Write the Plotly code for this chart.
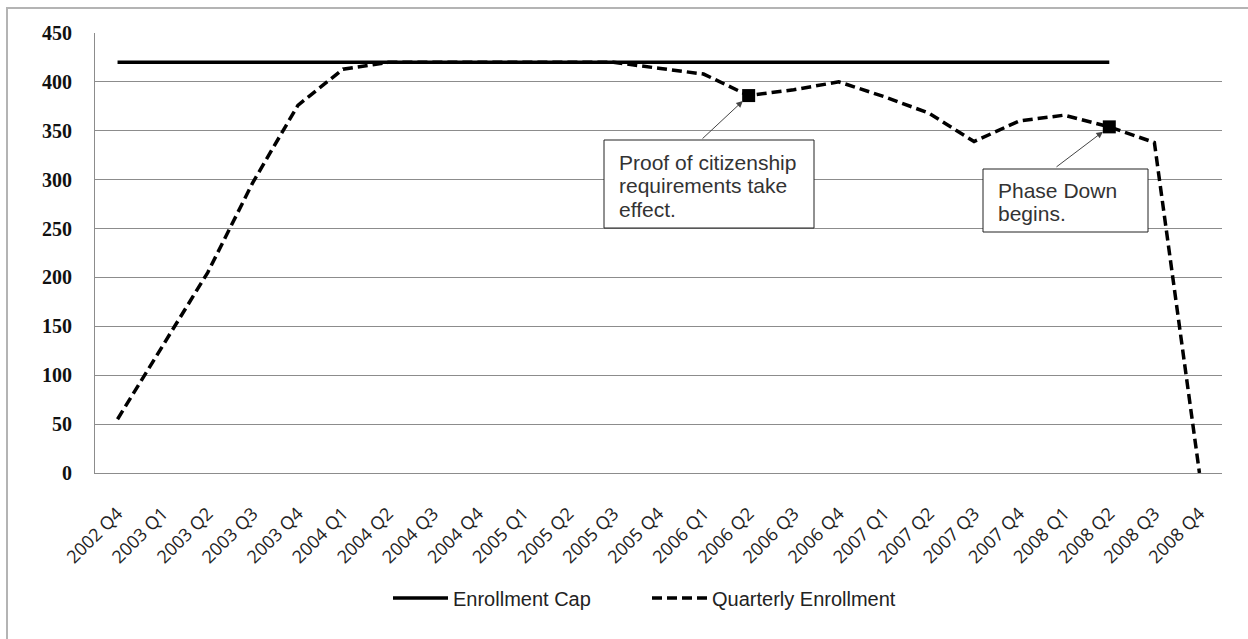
import plotly.graph_objects as go

# ---- data ----
quarters = [
    "2002 Q4",
    "2003 Q1", "2003 Q2", "2003 Q3", "2003 Q4",
    "2004 Q1", "2004 Q2", "2004 Q3", "2004 Q4",
    "2005 Q1", "2005 Q2", "2005 Q3", "2005 Q4",
    "2006 Q1", "2006 Q2", "2006 Q3", "2006 Q4",
    "2007 Q1", "2007 Q2", "2007 Q3", "2007 Q4",
    "2008 Q1", "2008 Q2", "2008 Q3", "2008 Q4",
]
enrollment_cap = [420] * 23 + [None, None]
quarterly_enrollment = [
    55,
    130, 205, 297, 376,
    413, 420, 420, 420,
    420, 420, 420, 414,
    408, 386, 392, 400,
    385, 368, 339, 360,
    366, 354, 338, 0,
]
event_quarters = ["2006 Q2", "2008 Q2"]
event_lines = [
    ["Proof of citizenship", "requirements take", "effect."],
    ["Phase Down", "begins."],
]
y_ticks = [0, 50, 100, 150, 200, 250, 300, 350, 400, 450]

# ---- layout geometry (pixels) ----
W, H = 1248, 639
L, R, T, B = 95, 1222, 33, 473
PW, PH = R - L, B - T


def px(xp):
    return (xp - L) / PW


def py(yp):
    return (B - yp) / PH


fig = go.Figure()

fig.add_trace(go.Scatter(
    x=quarters, y=enrollment_cap, mode="lines", name="Enrollment Cap",
    line=dict(color="black", width=3.5), connectgaps=False,
))
fig.add_trace(go.Scatter(
    x=quarters, y=quarterly_enrollment, mode="lines", name="Quarterly Enrollment",
    line=dict(color="black", width=3.5, dash="10px,5px"),
))
event_values = [quarterly_enrollment[quarters.index(q)] for q in event_quarters]
fig.add_trace(go.Scatter(
    x=event_quarters, y=event_values, mode="markers", showlegend=False,
    marker=dict(symbol="square", size=13, color="black"),
))

# text boxes (pixel geometry) and arrows
boxes = [
    dict(left=604, top=140, right=814, bottom=228, line_y=[162, 185, 209], tail=(701, 140)),
    dict(left=983, top=169, right=1148, bottom=232, line_y=[190, 213], tail=(1055, 168)),
]
for q, v, lines, bx in zip(event_quarters, event_values, event_lines, boxes):
    fig.add_shape(
        type="rect", xref="paper", yref="paper",
        x0=px(bx["left"]), x1=px(bx["right"]), y0=py(bx["top"]), y1=py(bx["bottom"]),
        line=dict(color="#222", width=1), fillcolor="white", layer="above",
    )
    for txt, ly in zip(lines, bx["line_y"]):
        fig.add_annotation(
            xref="paper", yref="paper", x=px(bx["left"] + 13), y=py(ly),
            xanchor="left", yanchor="middle", text=txt, showarrow=False,
            font=dict(family="Liberation Sans, Arial", size=21, color="#333"),
        )
    i = quarters.index(q)
    xpt = L + (i + 0.5) * PW / len(quarters)
    ypt = B - v * PH / 450
    fig.add_annotation(
        x=q, y=v, xref="x", yref="y", text="", showarrow=True,
        ax=bx["tail"][0] - xpt, ay=bx["tail"][1] - ypt,
        arrowhead=2, arrowsize=1.3, arrowwidth=1, arrowcolor="#444",
        standoff=8,
    )

# outer chart border
fig.add_shape(
    type="rect", xref="paper", yref="paper",
    x0=px(7), x1=px(1252), y0=py(8), y1=py(650),
    line=dict(color="#b4b4b4", width=2), fillcolor="rgba(0,0,0,0)", layer="below",
)

fig.update_layout(
    width=W, height=H,
    margin=dict(l=L, r=W - R, t=T, b=H - B),
    paper_bgcolor="white", plot_bgcolor="white",
    showlegend=True,
    legend=dict(
        orientation="h", xref="paper", yref="paper",
        x=px(388), y=py(598), xanchor="left", yanchor="middle",
        font=dict(family="Liberation Sans, Arial", size=20, color="#222"),
        itemwidth=55, tracegroupgap=0, bgcolor="rgba(0,0,0,0)",
        entrywidth=189, entrywidthmode="pixels",
    ),
    xaxis=dict(
        type="category", categoryorder="array", categoryarray=quarters,
        range=[-0.5, len(quarters) - 0.5],
        tickangle=-45, showgrid=False, zeroline=False,
        showline=True, linecolor="#8c8c8c", linewidth=1,
        ticks="", ticklabelstandoff=22,
        tickfont=dict(family="Open Sans", size=18, color="#222"),
    ),
    yaxis=dict(
        range=[0, 450], tickvals=y_ticks, ticktext=[str(t) for t in y_ticks],
        showgrid=True, gridcolor="#8c8c8c", gridwidth=1,
        zeroline=False, showline=True, linecolor="#8c8c8c", linewidth=1,
        ticks="", ticklabelstandoff=18,
        tickfont=dict(family="Liberation Serif", size=20, color="#111", weight="bold"),
    ),
)

fig.write_html("out.html")
